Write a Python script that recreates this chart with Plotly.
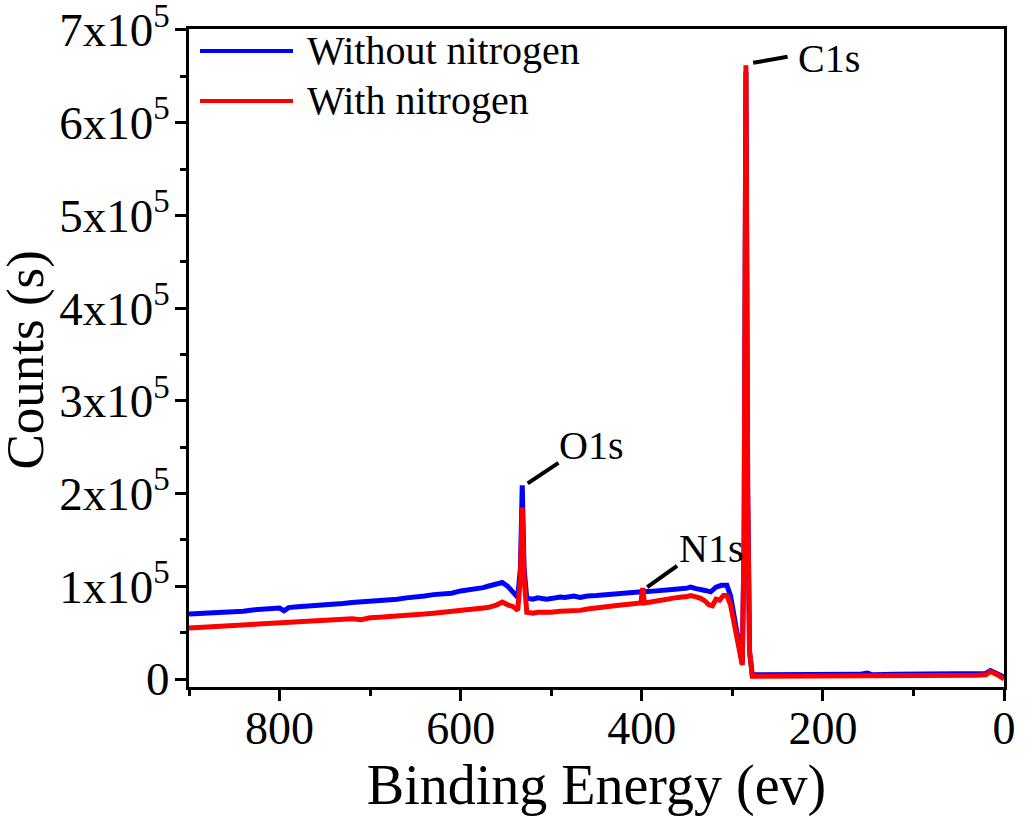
import plotly.graph_objects as go

# ---------------- data ----------------
energy_without = [900, 890, 880, 870, 860, 850, 840, 830, 820, 810, 800, 795, 790, 780, 770, 760,
                  750, 740, 730, 720, 710, 700, 690, 680, 670, 660, 650, 640, 630, 620, 610, 600,
                  590, 585, 575, 570, 560, 554, 548, 542, 537, 534, 532, 530, 527, 520, 515, 505,
                  500, 490, 485, 475, 468, 460, 450, 440, 430, 420, 410, 400, 390, 380, 370, 360,
                  350, 346, 340, 335, 330, 324, 318, 312, 306, 302, 297, 292, 289, 287, 285, 283,
                  281, 278, 260, 240, 220, 200, 180, 160, 151, 145, 120, 100, 80, 60, 40, 30, 20,
                  15, 8, 0]
counts_without = [70000, 70500, 71500, 71000, 72500, 73000, 73000, 74500, 75000, 75500, 76500,
                  73500, 77000, 78000, 78500, 79500, 80000, 81000, 81500, 82500, 83000, 84000,
                  84500, 85500, 86000, 87500, 88000, 89500, 91000, 91500, 92500, 95000, 96000,
                  97000, 98500, 100000, 102000, 104000, 100000, 93000, 88000, 120000, 209000,
                  120000, 87000, 86000, 87500, 86000, 87000, 88500, 88000, 89500, 88000, 89500,
                  90000, 91000, 92000, 92500, 93000, 94000, 94500, 95000, 96000, 97000, 98000,
                  99000, 97500, 97000, 95500, 94000, 99000, 101000, 101000, 90000, 60000, 30000,
                  17000, 150000, 655000, 200000, 30000, 4500, 4500, 4500, 5000, 4500, 4500, 5000,
                  6500, 4500, 5000, 5000, 5000, 5000, 5500, 5500, 6000, 9000, 6000, 2000]

energy_with = [900, 890, 880, 870, 860, 850, 840, 830, 820, 810, 800, 790, 780, 770, 760, 750,
               740, 730, 720, 710, 700, 690, 680, 670, 660, 650, 640, 630, 620, 610, 600, 590,
               585, 575, 570, 560, 554, 548, 542, 537, 534, 532, 530, 527, 520, 515, 505, 500,
               490, 485, 475, 468, 460, 450, 440, 430, 420, 410, 401, 399, 397, 390, 380, 370,
               360, 350, 346, 340, 335, 330, 326, 322, 318, 314, 310, 306, 302, 297, 292, 289,
               287, 285, 283, 281, 278, 250, 200, 150, 100, 60, 30, 20, 15, 8, 0]
counts_with = [55000, 55500, 56000, 56500, 57000, 57500, 58000, 58500, 59000, 59500, 60000,
               60500, 61000, 61500, 62000, 62500, 63000, 63500, 65000, 64000, 66000, 66500,
               67000, 68000, 69000, 69500, 70000, 71000, 72000, 72500, 73000, 74000, 75000,
               76000, 77000, 80000, 83000, 80000, 78000, 74000, 110000, 185000, 110000, 72000,
               71000, 72000, 71500, 72000, 73000, 73000, 74000, 74000, 75500, 77000, 78000,
               79000, 80000, 81000, 82000, 98000, 82000, 83000, 85000, 86500, 88000, 89000,
               90000, 88500, 87000, 84000, 80000, 79000, 86000, 85000, 90000, 90000, 80000,
               55000, 28000, 15000, 150000, 662000, 200000, 30000, 3000, 3000, 3000, 3500, 3500,
               3500, 4000, 4500, 8000, 5000, 0]

series_names = ["Without nitrogen", "With nitrogen"]
series_colors = ["#0000ff", "#ff0000"]

y_tick_vals = [0, 100000, 200000, 300000, 400000, 500000, 600000, 700000]
y_tick_text = ["0", "1x10<sup>5</sup>", "2x10<sup>5</sup>", "3x10<sup>5</sup>",
               "4x10<sup>5</sup>", "5x10<sup>5</sup>", "6x10<sup>5</sup>", "7x10<sup>5</sup>"]
x_tick_vals = [800, 600, 400, 200, 0]

peak_labels = ["O1s", "N1s", "C1s"]
peak_label_x = [456, 324, 193]
peak_label_y = [252000, 141000, 669000]
leader_x0 = [526, 394, 277]
leader_y0 = [211000, 99000, 664500]
leader_x1 = [492, 361, 239]
leader_y1 = [233000, 122000, 671000]

FONT = "Liberation Serif, Times New Roman, serif"

fig = go.Figure()
fig.add_trace(go.Scatter(x=energy_without, y=counts_without, mode="lines",
                         name=series_names[0], line=dict(color=series_colors[0], width=5),
                         showlegend=False))
fig.add_trace(go.Scatter(x=energy_with, y=counts_with, mode="lines",
                         name=series_names[1], line=dict(color=series_colors[1], width=5),
                         showlegend=False))

# manual legend (long line samples like the original)
legend_y = [0.9666, 0.8906]
for name, col, ly in zip(series_names, series_colors, legend_y):
    fig.add_shape(type="line", xref="paper", yref="paper", x0=0.0135, x1=0.1276,
                  y0=ly, y1=ly, line=dict(color=col, width=4))
    fig.add_annotation(xref="paper", yref="paper", x=0.1423, y=ly, text=name,
                       showarrow=False, xanchor="left", yanchor="middle",
                       font=dict(family=FONT, size=40, color="black"))

# peak labels with leader lines
for t, tx, ty, a0, b0, a1, b1 in zip(peak_labels, peak_label_x, peak_label_y,
                                     leader_x0, leader_y0, leader_x1, leader_y1):
    fig.add_shape(type="line", xref="x", yref="y", x0=a0, y0=b0, x1=a1, y1=b1,
                  line=dict(color="black", width=4))
    fig.add_annotation(x=tx, y=ty, text=t, showarrow=False, xanchor="center",
                       yanchor="middle", font=dict(family=FONT, size=40, color="black"))

# y-axis title placed as rotated text in the left margin
fig.add_annotation(xref="paper", yref="paper", x=-0.2005, y=0.497, text="Counts (s)",
                   textangle=-90, showarrow=False, xanchor="center", yanchor="middle",
                   font=dict(family=FONT, size=53, color="black"))

axis_common = dict(showline=True, linecolor="black", linewidth=3, mirror=True,
                   ticks="outside", ticklen=11, tickwidth=3, tickcolor="black",
                   showgrid=False, zeroline=False, ticklabeloverflow="allow")

fig.update_xaxes(range=[900, 0], tickvals=x_tick_vals,
                 tickfont=dict(family=FONT, size=46, color="black"),
                 title=dict(text="Binding Energy (ev)", font=dict(family=FONT, size=56, color="black"),
                            standoff=2),
                 minor=dict(ticks="outside", ticklen=6, tickwidth=3, tickcolor="black", dtick=100,
                            tick0=0),
                 ticklabelstandoff=-12,
                 **axis_common)
fig.update_yaxes(range=[-8630, 701000], tickvals=y_tick_vals, ticktext=y_tick_text,
                 tickfont=dict(family=FONT, size=47, color="black"),
                 minor=dict(ticks="outside", ticklen=6, tickwidth=3, tickcolor="black",
                            dtick=50000, tick0=0),
                 ticklabelstandoff=-4,
                 **axis_common)

fig.update_layout(width=1025, height=818, plot_bgcolor="white", paper_bgcolor="white",
                  margin=dict(l=189, r=21, t=29, b=131, autoexpand=False),
                  showlegend=False, font=dict(family=FONT, color="black"))

fig.write_html("out.html")
